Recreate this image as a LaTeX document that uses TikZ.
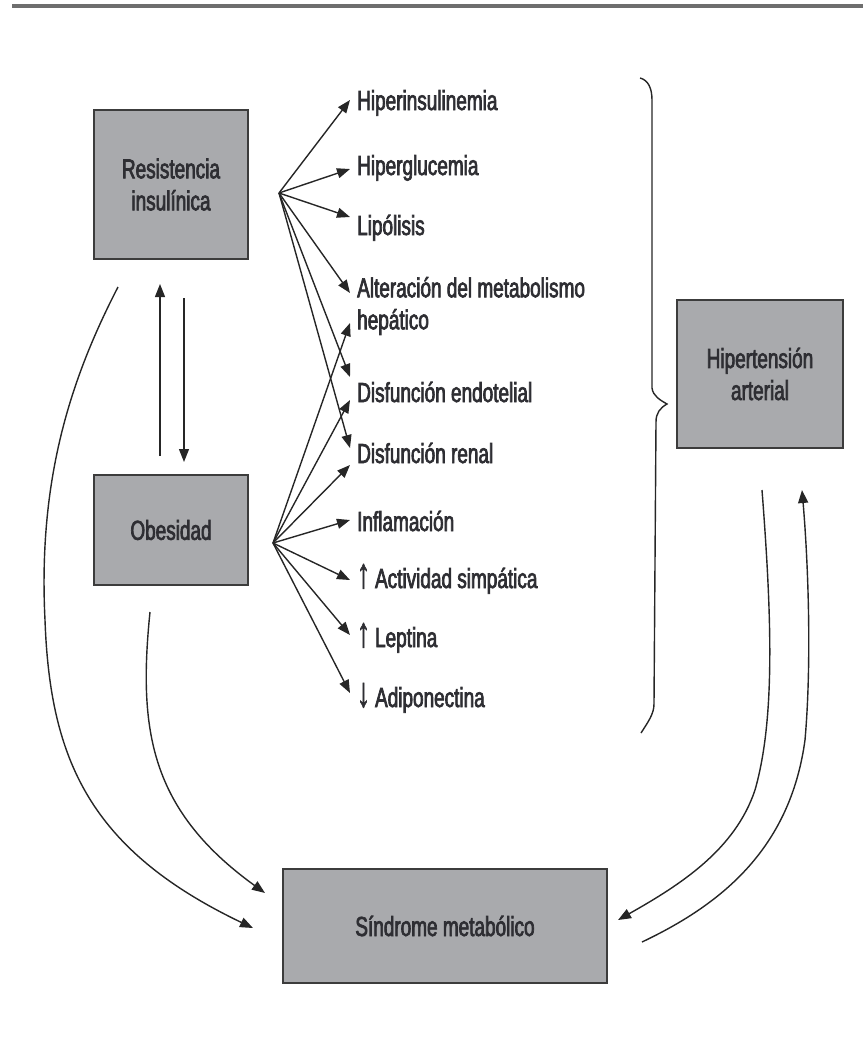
\documentclass[tikz,border=0pt]{standalone}
\usepackage{fontspec}
\setmainfont{Liberation Sans}[FakeStretch=0.69,FakeBold=2.5]
\newfontfamily\arrowfont{Liberation Sans}[FakeStretch=0.6,FakeBold=1.5]
\usetikzlibrary{arrows.meta,calc}
\definecolor{boxfill}{HTML}{A9AAAD}
\definecolor{boxline}{HTML}{3C3C3C}
\definecolor{txt}{HTML}{2E2E33}
\definecolor{ln}{HTML}{262626}
\definecolor{rule}{HTML}{6E6E6E}
\newcommand{\uparr}{{\arrowfont\fontsize{42}{32}\selectfont\raisebox{0.5pt}{↑}}}
\newcommand{\downarr}{{\arrowfont\fontsize{42}{32}\selectfont\raisebox{0.5pt}{↓}}}
\begin{document}
\begin{tikzpicture}[x=1pt,y=-1pt,
  box/.style={draw=boxline,line width=2pt,fill=boxfill,text=txt,align=center,
    font=\fontsize{27.5}{32}\selectfont,inner sep=0pt},
  lbl/.style={anchor=west,text=txt,inner sep=0pt,font=\fontsize{27.5}{32}\selectfont,
    text height=26pt,text depth=6pt},
  lbltwo/.style={anchor=west,text=txt,inner sep=0pt,align=left,font=\fontsize{27.5}{32}\selectfont},
  arr/.style={draw=ln,line width=1.4pt,-{Triangle[length=13pt,width=10pt]}},
  crv/.style={draw=ln,line width=1.4pt}]
\useasboundingbox (0,0) rectangle (863,1045);
\draw[line width=3.5pt,color=rule] (12,6) -- (863,6);

% boxes
\node[box,minimum width=154pt,minimum height=149pt] (ri) at (171,184.5) {Resistencia\\insulínica};
\node[box,minimum width=154pt,minimum height=110pt] (ob) at (171,530) {Obesidad};
\node[box,minimum width=166pt,minimum height=148pt] (hta) at (760,374) {Hipertensión\\arterial};
\node[box,minimum width=324pt,minimum height=114pt] (sm) at (445,926) {Síndrome metabólico};

% labels
\node[lbl] (h1) at (357,100) {Hiperinsulinemia};
\node[lbl] (h2) at (357,165) {Hiperglucemia};
\node[lbl] (h3) at (357,225) {Lipólisis};
\node[lbltwo] (alt) at (357,306) {Alteración del metabolismo\\hepático};
\node[lbl] (de) at (357,392) {Disfunción endotelial};
\node[lbl] (dr) at (357,453) {Disfunción renal};
\node[lbl] (inf) at (357,521) {Inflamación};
\node[lbl] (act) at (357,578) {\uparr\ Actividad simpática};
\node[lbl] (lep) at (357,637) {\uparr\ Leptina};
\node[lbl] (adi) at (357,697) {\downarr\ Adiponectina};

% fan origins
\coordinate (fr) at (279,193);
\coordinate (fo) at (273,543);

% fan from Resistencia insulinica
\draw[arr] (fr) -- ([shift={(-7,0)}]h1.west);
\draw[arr] (fr) -- ([shift={(-7,4)}]h2.west);
\draw[arr] (fr) -- ([shift={(-7,-8)}]h3.west);
\draw[arr] (fr) -- ([shift={(-7,-13)}]alt.west);
\draw[arr] (fr) -- ([shift={(-7,-15)}]de.west);
\draw[arr] (fr) -- ([shift={(-7,-5)}]dr.west);

% fan from Obesidad
\draw[arr] (fo) -- ([shift={(-7,17)}]alt.west);
\draw[arr] (fo) -- ([shift={(-7,8)}]de.west);
\draw[arr] (fo) -- ([shift={(-7,12)}]dr.west);
\draw[arr] (fo) -- ([shift={(-7,-1)}]inf.west);
\draw[arr] (fo) -- ([shift={(-7,2)}]act.west);
\draw[arr] (fo) -- ([shift={(-7,-2)}]lep.west);
\draw[arr] (fo) -- ([shift={(-7,-4)}]adi.west);

% vertical arrows between RI and Obesidad
\draw[arr] ([shift={(-11,-18)}]ob.north) -- ([shift={(-11,24)}]ri.south);
\draw[arr] ([shift={(13,38)}]ri.south) -- ([shift={(13,-12)}]ob.north);

% curved arrows to Sindrome metabolico
\coordinate (c1s) at (118,287);
\coordinate (c1e) at (253,928);
\coordinate (c2s) at (150,612);
\coordinate (c2e) at (265,893);
\coordinate (c3s) at (762,490);
\coordinate (c3e) at (618,920);
\coordinate (c4s) at (642,942);
\coordinate (c4e) at (802,490);
\draw[arr] (c1s) .. controls (70,380) and (38,480) .. (45,620)
  .. controls (50,760) and (90,850) .. (c1e);
\draw[arr] (c2s) .. controls (138,730) and (150,810) .. (c2e);
\draw[arr] (c3s) .. controls (772,620) and (775,720) .. (755,790)
  .. controls (735,850) and (680,885) .. (c3e);
\draw[arr] (c4s) .. controls (720,905) and (790,850) .. (805,740)
  .. controls (812,660) and (808,560) .. (c4e);

% brace
\draw[crv] (640,78) .. controls (648,80) and (652,88) .. (652,100) -- (652,388)
  .. controls (653,396) and (660,400) .. (667,404)
  .. controls (660,408) and (656,413) .. (656,422) -- (654,704)
  .. controls (654,714) and (648,722) .. (641,733);
\end{tikzpicture}
\end{document}
